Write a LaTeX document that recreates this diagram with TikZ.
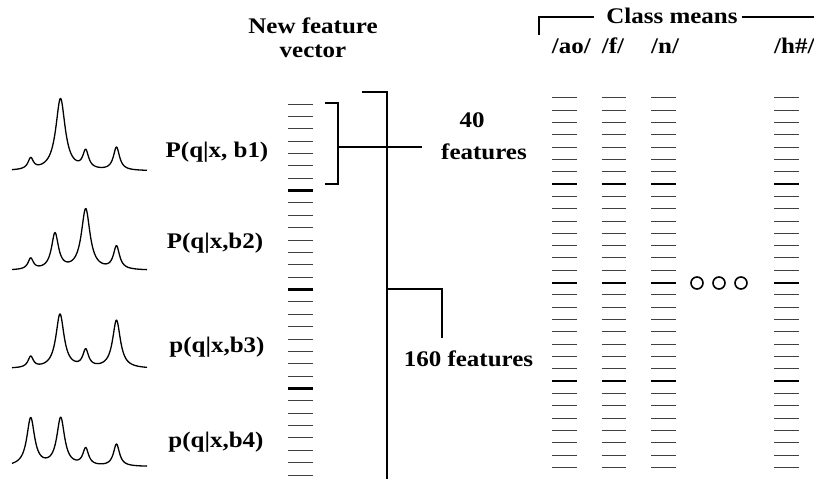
\documentclass[tikz,border=0pt]{standalone}
\usepackage{fontspec}
\setmainfont{Liberation Serif}[FakeStretch=1.12]
\usetikzlibrary{positioning}

\tikzset{
  lbl/.style={font=\fontsize{22.3}{23.5}\selectfont\bfseries, align=center,
              inner sep=0pt},
  dashthin/.style={line width=1pt, color=black!75},
  dashthick/.style={line width=2.2pt, color=black},
  brace/.style={line width=1.8pt, color=black},
  curve/.style={line width=1.3pt, line join=round},
  dot/.style={line width=1.6pt, color=black}
}

% one column of dashes: left x, right x, top y, spacing
\newcommand{\dashcol}[4]{%
  \foreach \i in {0,...,30}{
    \pgfmathtruncatemacro{\r}{mod(\i,8)}
    \ifnum\r=7
      \draw[dashthick] (#1,{#3+\i*#4}) -- (#2,{#3+\i*#4});
    \else
      \draw[dashthin] (#1,{#3+\i*#4}) -- (#2,{#3+\i*#4});
    \fi
  }}

% one band: baseline y, place of the second peak, the four peak heights
\newcommand{\spectrum}[6]{%
  \draw[curve] plot[domain=12:147, samples=300, smooth]
    (\x, {#1 - #3/(1+((\x-30.7)/(2.8+#3/25))^2)
              - #4/(1+((\x-#2)/(2.8+#4/25))^2)
              - #5/(1+((\x-85.7)/(2.8+#5/25))^2)
              - #6/(1+((\x-116.5)/(2.8+#6/25))^2)});
}

\begin{document}
\begin{tikzpicture}[x=1pt, y=-1pt]
  \useasboundingbox (0,0) rectangle (814,479);

  %% band posteriors
  \spectrum{171}{60.5}{11}{72}{18}{23}
  \spectrum{270.5}{55}{11}{36}{61}{23}
  \spectrum{368.7}{60}{11}{54}{17}{48}
  \spectrum{466.7}{60.7}{48}{48}{17}{22}

  \node[lbl] (pb1) at (217,152) {P(q|x, b1)};
  \node[lbl] (pb2) at (215,243) {P(q|x,b2)};
  \node[lbl] (pb3) at (217,347) {p(q|x,b3)};
  \node[lbl] (pb4) at (216,442) {p(q|x,b4)};

  %% new feature vector
  \node[lbl] (newvec) at (313,38) {New feature\\vector};
  \dashcol{288}{313}{104}{12.37}

  %% 40 features bracket
  \coordinate (b40top) at (325,103.3);
  \coordinate (b40bot) at (325,184.3);
  \coordinate (b40mid) at (338.3,147.3);
  \coordinate (b40end) at (422.3,147.3);
  \node[lbl] (f40) at (484,136) {40\hspace*{24pt}\\[9pt]features};
  \draw[brace] (b40top) -| (b40mid |- b40bot) -- (b40bot);
  \draw[brace] (b40mid) -- (b40end);

  %% 160 features spine
  \coordinate (spinetop) at (362.3,91.7);
  \coordinate (spinebot) at (386.7,479);
  \coordinate (f160end) at (441.7,338.3);
  \node[lbl] (f160) at (468.5,359) {160 features};
  \draw[brace] (spinetop) -- (spinebot |- spinetop) -- (spinebot);
  \draw[brace] (spinebot |- 0,289.3) -| (f160end);

  %% class means
  \node[lbl] (means) at (672,16) {Class means};
  \coordinate (meansL) at (539.3,35);
  \coordinate (meansR) at (814,17);
  \draw[brace] (meansL) |- (594,17);
  \draw[brace] (741.7,17) -- (meansR);

  \node[lbl, anchor=west] (ao) at (551.7,46) {/ao/};
  \node[lbl, anchor=west] (ff) at (601.7,46) {/f/};
  \node[lbl, anchor=west] (nn) at (651,46) {/n/};
  \node[lbl, anchor=west] (hh) at (774,46) {/h\#/};

  \dashcol{552.3}{577}{97.7}{12.33}
  \dashcol{601.7}{626.3}{97.7}{12.33}
  \dashcol{651}{675.7}{97.7}{12.33}
  \dashcol{774}{798.6}{97.7}{12.33}

  \foreach \cx in {697,719,741}
    \draw[dot] (\cx,283) circle[radius=6];
\end{tikzpicture}
\end{document}
